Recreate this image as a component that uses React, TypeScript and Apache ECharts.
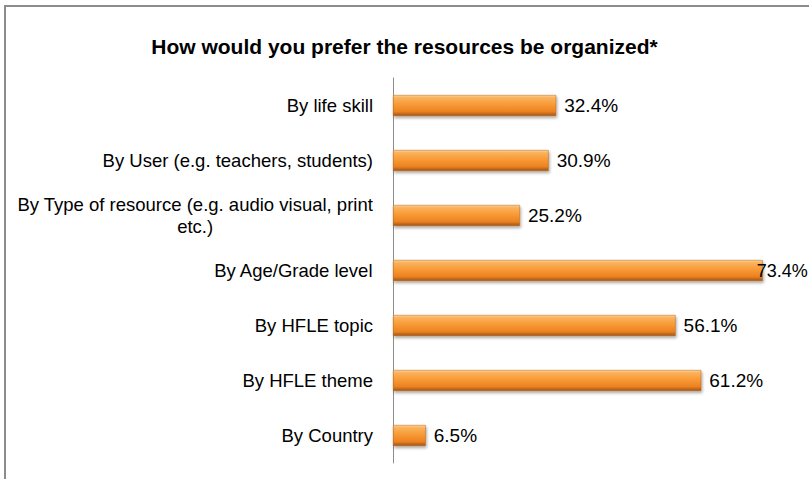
import React, { useEffect, useRef } from "react";
import * as echarts from "echarts";

const titleText = "How would you prefer the resources be organized*";
const categories = [
  "By life skill",
  "By User (e.g. teachers, students)",
  "By Type of resource (e.g. audio visual, print\netc.)",
  "By Age/Grade level",
  "By HFLE topic",
  "By HFLE theme",
  "By Country",
];
const values = [32.4, 30.9, 25.2, 73.4, 56.1, 61.2, 6.5];

export default function App() {
  const ref = useRef<HTMLDivElement>(null);
  useEffect(() => {
    if (!ref.current) return;
    const chart = echarts.init(ref.current, undefined, { renderer: "svg" });
    const maxVal = Math.max(...values);
    const barColor = new echarts.graphic.LinearGradient(0, 0, 0, 1, [
      { offset: 0, color: "#fcd39c" },
      { offset: 0.12, color: "#fbb25c" },
      { offset: 0.45, color: "#f89a36" },
      { offset: 0.8, color: "#ec8220" },
      { offset: 1, color: "#9c5418" },
    ]);
    chart.setOption({
      animation: false,
      backgroundColor: "#ffffff",
      title: {
        text: titleText,
        left: "center",
        top: 31,
        textStyle: {
          fontFamily: "Liberation Sans, Arial, sans-serif",
          fontSize: 21,
          fontWeight: "bold",
          color: "#000000",
        },
      },
      graphic: [
        {
          type: "rect",
          shape: { x: 5, y: 6, width: 830, height: 500 },
          style: { fill: "none", stroke: "#8c8c8c", lineWidth: 2 },
          silent: true,
        },
      ],
      grid: { left: 393, right: 13, top: 78, bottom: 16, containLabel: false },
      xAxis: {
        type: "value",
        min: 0,
        max: 80,
        show: false,
        splitLine: { show: false },
      },
      yAxis: {
        type: "category",
        inverse: true,
        data: categories,
        axisLine: { show: true, lineStyle: { color: "#8c8c8c", width: 1 } },
        axisTick: { show: false },
        axisLabel: {
          margin: 20,
          fontFamily: "Liberation Sans, Arial, sans-serif",
          fontSize: 18.5,
          color: "#000000",
          lineHeight: 22,
          formatter: (v: string) =>
            v
              .split("\n")
              .map((l) => "{c|" + l + "}")
              .join("\n"),
          rich: {
            c: {
              align: "center",
              fontFamily: "Liberation Sans, Arial, sans-serif",
              fontSize: 18.5,
              color: "#000000",
              lineHeight: 22,
            },
          },
        },
      },
      series: [
        {
          type: "bar",
          barWidth: 21,
          data: values.map((v) =>
            v === maxVal
              ? { value: v, label: { distance: -6, fontSize: 18 } }
              : v
          ),
          itemStyle: {
            color: barColor,
            borderColor: "#b8651f",
            borderWidth: 0.5,
            shadowColor: "rgba(0,0,0,0.35)",
            shadowBlur: 3,
            shadowOffsetX: 1,
            shadowOffsetY: 2,
          },
          label: {
            show: true,
            position: "right",
            distance: 8,
            formatter: (p: any) => p.value.toFixed(1) + "%",
            fontFamily: "Liberation Sans, Arial, sans-serif",
            fontSize: 19,
            color: "#000000",
          },
        },
      ],
    });
    return () => chart.dispose();
  }, []);
  return (
    <div
      ref={ref}
      style={{ position: "fixed", left: 0, top: 0, width: 809, height: 479 }}
    />
  );
}
